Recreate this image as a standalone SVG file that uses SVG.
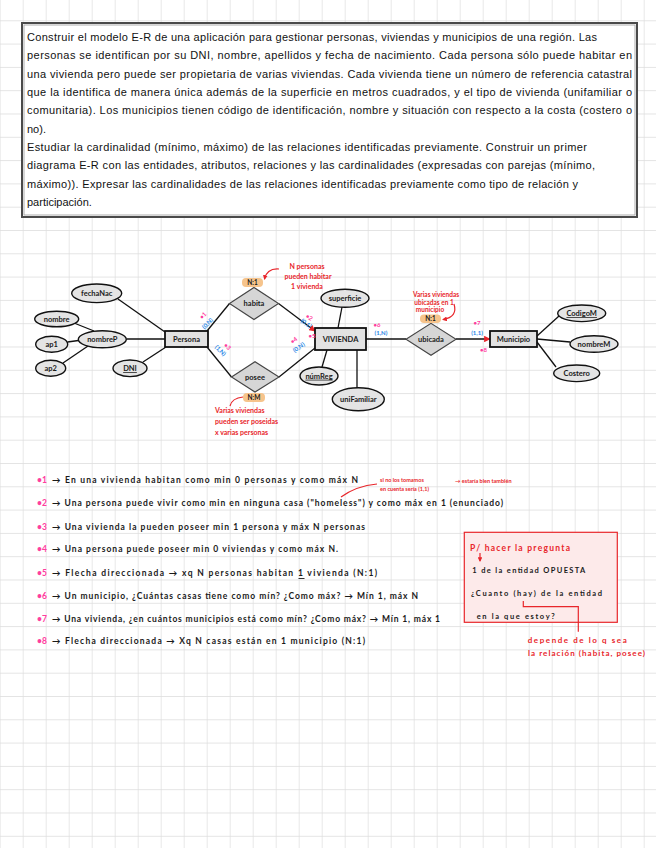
<svg xmlns="http://www.w3.org/2000/svg" width="656" height="848" viewBox="0 0 656 848">
<style>
.q{font-family:"Liberation Sans",Arial,sans-serif;font-size:11px;fill:#111}
.h{font-family:"Lato","Open Sans",sans-serif;font-weight:700;fill:#1a1a1a}
.lbl{font-size:7.5px;text-anchor:middle}
.note{font-size:8.5px}
.red{fill:#e8262b}
.blue{fill:#1f86e6}
.pink{fill:#ff3d9e}
.attr{fill:#e4e4e4;stroke:#111;stroke-width:1.4}
.ent{fill:#e2e2e2;stroke:#111;stroke-width:1.8}
.rel{fill:#d6d6d6;stroke:#444;stroke-width:1.1}
.pill{fill:#f6c48c}
.ln{stroke:#111;stroke-width:1.3;fill:none}
.rl{stroke:#e8262b;stroke-width:1.2;fill:none}
</style>
<defs>
<pattern id="grid" x="22.7" y="20.3" width="23" height="23.3" patternUnits="userSpaceOnUse">
<path d="M0 0H23M0 0V23.3" stroke="#dcdcdc" stroke-width="1.3" fill="none"/>
</pattern>
<marker id="ra" viewBox="0 0 10 10" refX="9" refY="5" markerWidth="5" markerHeight="5" orient="auto">
<path d="M0 0L10 5L0 10z" fill="#e8262b"/>
</marker>
<marker id="rs" viewBox="0 0 10 10" refX="8" refY="5" markerWidth="4" markerHeight="4" orient="auto">
<path d="M0 0L10 5L0 10z" fill="#e8262b"/>
</marker>
</defs>
<rect width="656" height="848" fill="#fff"/>
<rect width="656" height="848" fill="url(#grid)"/>

<g id="enunciado">
<rect x="22" y="23" width="615" height="194" fill="#fff" stroke="#4a4a4a" stroke-width="2"/>
<rect x="24" y="25" width="611" height="190" fill="none" stroke="#9a9a9a" stroke-width="0.8"/>
<text class="q" x="27" y="41" textLength="570" lengthAdjust="spacing">Construir el modelo E-R de una aplicación para gestionar personas, viviendas y municipios de una región. Las</text>
<text class="q" x="27" y="59.3" textLength="605" lengthAdjust="spacing">personas se identifican por su DNI, nombre, apellidos y fecha de nacimiento. Cada persona sólo puede habitar en</text>
<text class="q" x="27" y="77.7" textLength="605" lengthAdjust="spacing">una vivienda pero puede ser propietaria de varias viviendas. Cada vivienda tiene un número de referencia catastral</text>
<text class="q" x="27" y="96" textLength="605" lengthAdjust="spacing">que la identifica de manera única además de la superficie en metros cuadrados, y el tipo de vivienda (unifamiliar o</text>
<text class="q" x="27" y="114.3" textLength="605" lengthAdjust="spacing">comunitaria). Los municipios tienen código de identificación, nombre y situación con respecto a la costa (costero o</text>
<text class="q" x="27" y="132.7">no).</text>
<text class="q" x="27" y="151" textLength="560" lengthAdjust="spacing">Estudiar la cardinalidad (mínimo, máximo) de las relaciones identificadas previamente. Construir un primer</text>
<text class="q" x="27" y="169.3" textLength="568" lengthAdjust="spacing">diagrama E-R con las entidades, atributos, relaciones y las cardinalidades (expresadas con parejas (mínimo,</text>
<text class="q" x="27" y="187.7" textLength="551" lengthAdjust="spacing">máximo)). Expresar las cardinalidades de las relaciones identificadas previamente como tipo de relación y</text>
<text class="q" x="27" y="206">participación.</text>
</g>

<g id="connectors">
<line class="ln" x1="118" y1="299" x2="165" y2="332"/>
<line class="ln" x1="74" y1="323" x2="94" y2="331"/>
<line class="ln" x1="67.5" y1="342" x2="78.5" y2="340.5"/>
<line class="ln" x1="63" y1="363" x2="88" y2="346"/>
<line class="ln" x1="126.5" y1="339" x2="165" y2="339"/>
<line class="ln" x1="143" y1="362" x2="166" y2="347"/>
<line class="ln" x1="207" y1="331" x2="229.5" y2="303.5"/>
<line class="ln" x1="278.5" y1="303.5" x2="315" y2="331" marker-end="url(#ra)"/>
<line class="ln" x1="207" y1="347" x2="231.5" y2="377"/>
<line class="ln" x1="279" y1="377" x2="315" y2="348"/>
<line class="ln" x1="342" y1="307" x2="338" y2="328"/>
<line class="ln" x1="322" y1="367" x2="327" y2="350"/>
<line class="ln" x1="357" y1="388" x2="357" y2="350"/>
<line class="ln" x1="366" y1="339" x2="406" y2="339"/>
<line class="ln" x1="456" y1="339" x2="490" y2="339" marker-end="url(#ra)"/>
<line class="ln" x1="537" y1="336" x2="559" y2="316"/>
<line class="ln" x1="537" y1="339" x2="570" y2="342"/>
<line class="ln" x1="537" y1="342" x2="556" y2="367"/>
</g>

<g id="fechaNac"><ellipse class="attr" cx="96.7" cy="293.3" rx="25" ry="9.3"/><text class="h lbl" x="96.7" y="296">fechaNac</text></g>
<g id="nombre"><ellipse class="attr" cx="56.7" cy="319" rx="22" ry="7.8"/><text class="h lbl" x="56.7" y="321.7">nombre</text></g>
<g id="nombreP"><ellipse class="attr" cx="102.3" cy="339.3" rx="24" ry="8.5"/><text class="h lbl" x="102.3" y="342">nombreP</text></g>
<g id="ap1"><ellipse class="attr" cx="51.7" cy="344.3" rx="16" ry="8"/><text class="h lbl" x="51.7" y="347">ap1</text></g>
<g id="ap2"><ellipse class="attr" cx="50.7" cy="368.3" rx="15" ry="8"/><text class="h lbl" x="50.7" y="371">ap2</text></g>
<g id="DNI"><ellipse class="attr" cx="130" cy="368.3" rx="17" ry="8.3"/><text class="h lbl" x="130" y="371" text-decoration="underline">DNI</text></g>
<g id="Persona"><rect class="ent" x="165" y="331" width="43" height="16"/><text class="h lbl" x="186.5" y="341.8">Persona</text></g>
<g id="habita"><polygon class="rel" points="229.5,303.5 254,287.5 278.5,303.5 254,319.5"/><text class="h lbl" x="254" y="306.2">habita</text></g>
<g id="posee"><polygon class="rel" points="231.5,377 255,361.7 279,377 255,392"/><text class="h lbl" x="255" y="379.7">posee</text></g>
<g id="VIVIENDA"><rect class="ent" x="315" y="328" width="51" height="22"/><text class="h lbl" x="340.5" y="341.7">VIVIENDA</text></g>
<g id="superficie"><ellipse class="attr" cx="345" cy="298.3" rx="24" ry="9"/><text class="h lbl" x="345" y="301">superficie</text></g>
<g id="numReg"><ellipse class="attr" cx="319" cy="376" rx="19" ry="9"/><text class="h lbl" x="319" y="378.7" text-decoration="underline">númReg</text></g>
<g id="uniFamiliar"><ellipse class="attr" cx="358.3" cy="399.3" rx="26" ry="11.5"/><text class="h lbl" x="358.3" y="402">uniFamiliar</text></g>
<g id="ubicada"><polygon class="rel" points="406,339.3 431,323.3 456,339.3 431,355.3"/><text class="h lbl" x="431" y="342">ubicada</text></g>
<g id="Municipio"><rect class="ent" x="490" y="331" width="47" height="16"/><text class="h lbl" x="513.5" y="341.8">Municipio</text></g>
<g id="CodigoM"><ellipse class="attr" cx="581.7" cy="313.3" rx="24" ry="8.3"/><text class="h lbl" x="581.7" y="316" text-decoration="underline">CodigoM</text></g>
<g id="nombreM"><ellipse class="attr" cx="594" cy="344" rx="24" ry="8.3"/><text class="h lbl" x="594" y="346.7">nombreM</text></g>
<g id="Costero"><ellipse class="attr" cx="576.7" cy="373.3" rx="23" ry="8.3"/><text class="h lbl" x="576.7" y="376">Costero</text></g>

<g id="cardinalidades" font-family="Lato, sans-serif" font-weight="700" font-size="6px" text-anchor="middle">
<text class="pink" x="204.5" y="317" transform="rotate(-45 204.5 317)">•1</text>
<text class="blue" x="209" y="325" transform="rotate(-45 209 325)">(0,N)</text>
<text class="blue" x="219" y="352" transform="rotate(45 219 352)">(1,N)</text>
<text class="pink" x="226" y="348" transform="rotate(45 226 348)">•3</text>
<text class="pink" x="308" y="319" transform="rotate(35 308 319)">•2</text>
<text class="blue" x="305" y="325" transform="rotate(35 305 325)">(0,1)</text>
<text class="pink" x="295" y="342" transform="rotate(-35 295 342)">•4</text>
<text class="blue" x="300" y="349" transform="rotate(-35 300 349)">(0,N)</text>
<text class="pink" x="312" y="338">•5</text>
<text class="pink" x="377" y="327">•6</text>
<text class="blue" x="381" y="335">(1,N)</text>
<text class="pink" x="477" y="325">•7</text>
<text class="blue" x="477" y="334.5">(1,1)</text>
<text class="pink" x="483.5" y="352">•8</text>
</g>

<g id="tipo-habita">
<rect class="pill" x="242" y="278" width="21" height="9" rx="4"/>
<text class="h" x="252.5" y="285" font-size="6.5" text-anchor="middle">N:1</text>
<text class="h red" font-size="7" text-anchor="middle"><tspan x="307" y="268.5">N personas</tspan><tspan x="308" y="278.5">pueden habitar</tspan><tspan x="307" y="288.5">1 vivienda</tspan></text>
<path class="rl" d="M279,269 Q267,268 264.5,279" marker-end="url(#rs)"/>
</g>
<g id="tipo-posee">
<rect class="pill" x="243" y="393" width="22" height="9" rx="4"/>
<text class="h" x="254" y="400" font-size="6.5" text-anchor="middle">N:M</text>
<text class="h red" font-size="7"><tspan x="215" y="413">Varias viviendas</tspan><tspan x="215" y="423.5">pueden ser poseidas</tspan><tspan x="215" y="434.5">x varias personas</tspan></text>
<path class="rl" d="M243,397 Q232,398 230,406"/>
</g>
<g id="tipo-ubicada">
<rect class="pill" x="420" y="314.5" width="21" height="8.5" rx="4"/>
<text class="h" x="430.5" y="321.2" font-size="6.5" text-anchor="middle">N:1</text>
<text class="h red" font-size="6.5" text-anchor="middle"><tspan x="436" y="296.5">Varias viviendas</tspan><tspan x="434" y="304.5">ubicadas en 1</tspan><tspan x="430" y="312">municipio</tspan></text>
<path class="rl" d="M454,304 Q458,317 443,319.5" marker-end="url(#rs)"/>
</g>

<g id="notas" class="h note">
<text class="pink" x="37" y="483">•1</text>
<text x="52" y="483" textLength="306" lengthAdjust="spacing">→ En una vivienda habitan como min 0 personas  y como máx N</text>
<text class="pink" x="37" y="506">•2</text>
<text x="52" y="506" textLength="451" lengthAdjust="spacing">→ Una persona puede vivir como min en ninguna casa ("homeless") y como máx en 1 (enunciado)</text>
<text class="pink" x="37" y="530">•3</text>
<text x="52" y="530" textLength="313" lengthAdjust="spacing">→ Una vivienda la pueden poseer min 1 persona y máx N personas</text>
<text class="pink" x="37" y="551.5">•4</text>
<text x="52" y="551.5" textLength="286" lengthAdjust="spacing">→ Una persona puede poseer min 0 viviendas y como máx N.</text>
<text class="pink" x="37" y="575.5">•5</text>
<text x="52" y="575.5" textLength="325" lengthAdjust="spacing">→ Flecha direccionada → xq N personas habitan 1 vivienda (N:1)</text>
<line x1="298.5" y1="578.5" x2="304.5" y2="578.5" stroke="#1a1a1a" stroke-width="0.9"/>
<text class="pink" x="37" y="598.5">•6</text>
<text x="52" y="598.5" textLength="366" lengthAdjust="spacing">→ Un municipio, ¿Cuántas casas tiene como mín? ¿Como máx? → Mín 1, máx N</text>
<text class="pink" x="37" y="621.5">•7</text>
<text x="52" y="621.5" textLength="388" lengthAdjust="spacing">→ Una vivienda, ¿en cuántos municipios está como mín? ¿Como máx? → Mín 1, máx 1</text>
<text class="pink" x="37" y="643.5">•8</text>
<text x="52" y="643.5" textLength="313" lengthAdjust="spacing">→ Flecha direccionada → Xq N casas están en 1 municipio (N:1)</text>
<path class="rl" d="M341,497 Q356,486 377,484"/>
<text class="red" font-size="5.5"><tspan x="380" y="482">si no los tomamos</tspan><tspan x="380" y="490.5">en cuenta sería (1,1)</tspan></text>
<text class="red" font-size="5.5" x="455" y="483">→ estaría bien también</text>
</g>

<g id="recordatorio" class="h">
<rect x="464.3" y="532.3" width="153" height="90" fill="#fdeaea" stroke="#e8262b" stroke-width="1.2"/>
<text class="red" x="470" y="550.5" font-size="8.5" textLength="100" lengthAdjust="spacing">P/ hacer la pregunta</text>
<path class="rl" d="M480,553 V561" marker-end="url(#rs)"/>
<text x="472.3" y="572.5" font-size="7.5" textLength="113" lengthAdjust="spacing">1 de la entidad OPUESTA</text>
<text x="471" y="596" font-size="7.5" textLength="131" lengthAdjust="spacing">¿Cuanto (hay) de la entidad</text>
<text x="476.7" y="618.5" font-size="7.5" textLength="78" lengthAdjust="spacing">en la que estoy?</text>
<path class="rl" d="M523.3,601 V606.7 H578.3 V631.7"/>
<text class="red" x="527.7" y="642.5" font-size="8" textLength="99" lengthAdjust="spacing">depende de lo q sea</text>
<text class="red" x="528" y="655.5" font-size="8" textLength="117" lengthAdjust="spacing">la relación (habita, posee)</text>
</g>
</svg>
